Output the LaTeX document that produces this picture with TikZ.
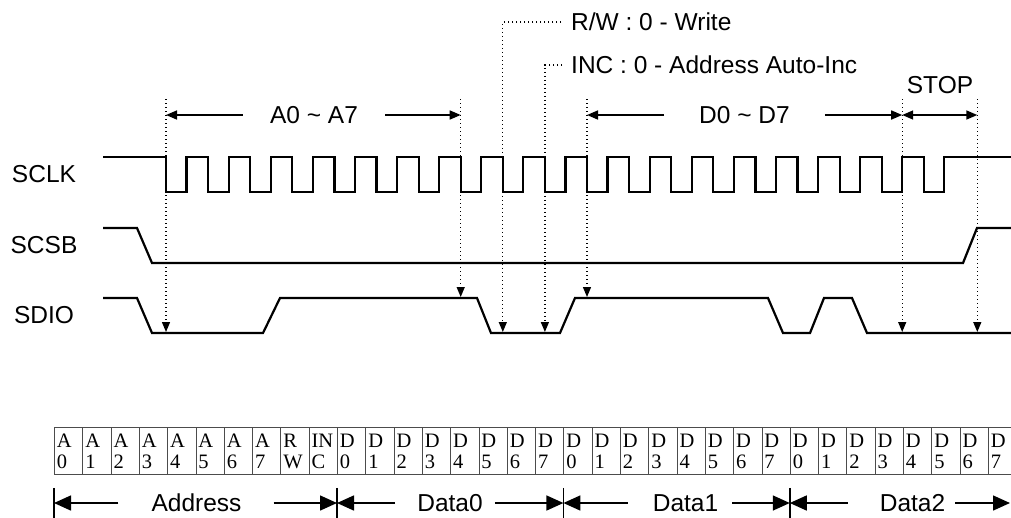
\documentclass[tikz,border=0pt]{standalone}
\usepackage{fontspec}
\setmainfont{Liberation Serif}
\setsansfont{Liberation Sans}
\usepackage{tikz}
\usetikzlibrary{arrows.meta, positioning}

\begin{document}
\begin{tikzpicture}[
    x=1pt, y=-1pt,
    sig/.style={line width=2.2pt, line join=miter},
    lbl/.style={font=\sffamily\fontsize{24.5}{29}\selectfont, text height=17.5pt, text depth=0pt, inner sep=0pt},
    guide/.style={line width=1.3pt, dash pattern=on 1.3pt off 2.7pt, -{Triangle[length=10pt, width=8pt]}},
    span/.style={line width=1.6pt, -{Triangle[length=11pt, width=9pt]}},
    spanboth/.style={line width=1.6pt, {Triangle[length=11pt, width=9pt]}-{Triangle[length=11pt, width=9pt]}},
    field/.style={line width=1.5pt, -{Triangle[length=17pt, width=15pt]}},
    bar/.style={line width=1.5pt},
    cell/.style={draw=black!70, line width=0.9pt, rectangle, anchor=north west, minimum width=28.3pt, minimum height=47pt, inner xsep=2.5pt, inner ysep=0pt, text width=23.3pt, align=left, font=\fontsize{20.5}{21}\selectfont}
]
\useasboundingbox (0,0) rectangle (1011,517);
\clip (0,0) rectangle (1011,517);

\node[lbl] (sclk) at (44,174) {SCLK};
\node[lbl, below=52.5pt of sclk] (scsb) {SCSB};
\node[lbl, below=52.5pt of scsb] (sdio) {SDIO};

% waveforms
\draw[sig] (103,157) foreach \k in {0,...,18} { -- ({166+42.1*\k},157) -- ++(0,35) -- ++(20.5,0) -- ++(0,-35) } -- (1011,157);
\draw[sig] (103,228) -- (137,228) -- (152,263) -- (963,263) -- (977,228) -- (1011,228);
\draw[sig] (103,298) -- (137,298) -- (152,333) -- (263,333) -- (280,298) -- (477,298) -- (491,333) -- (560,333)
    -- (575,298) -- (768,298) -- (783,333) -- (810,333) -- (824,298) -- (852,298) -- (867,333) -- (1011,333);

\coordinate (a0top) at (166,99);     \coordinate (a0bot) at (166,332);
\coordinate (a7top) at (460.7,99);   \coordinate (a7bot) at (460.7,297);
\coordinate (rwtop) at (502.8,22);   \coordinate (rwbot) at (502.8,332);
\coordinate (inctop) at (544.9,65);  \coordinate (incbot) at (544.9,332);
\coordinate (d0top) at (587,99);     \coordinate (d0bot) at (587,297);
\coordinate (d7top) at (902.2,99);   \coordinate (d7bot) at (902.2,332);
\coordinate (stoptop) at (977.3,99); \coordinate (stopbot) at (977.3,332);

\node[lbl, anchor=west] (rwtxt) at (571,22) {R/W : 0 - Write};
\node[lbl, anchor=west] (inctxt) at (571,65) {INC : 0 - Address Auto-Inc};
\node[lbl, inner xsep=27pt] (atxt) at (314,115) {A0 \textasciitilde{} A7};
\node[lbl, inner xsep=35pt] (dtxt) at (744.5,115) {D0 \textasciitilde{} D7};
\node[lbl] (stoptxt) at (940,85) {STOP};

\draw[guide] (a0top) -- (a0bot);
\draw[guide] (a7top) -- (a7bot);
\draw[guide, shorten <=10pt] (rwtxt.west) -- (rwtop) -- (rwbot);
\draw[guide, shorten <=9pt] (inctxt.west) -- (inctop) -- (incbot);
\draw[guide] (d0top) -- (d0bot);
\draw[guide] (d7top) -- (d7bot);
\draw[guide] (stoptop) -- (stopbot);

\draw[span] (atxt.west) -- (atxt.west -| a0top);
\draw[span] (atxt.east) -- (atxt.east -| a7top);
\draw[span] (dtxt.west) -- (dtxt.west -| d0top);
\draw[span] (dtxt.east) -- (dtxt.east -| d7top);
\draw[spanboth] (dtxt.east -| d7top) -- (dtxt.east -| stoptop);

% bit table
\foreach \hi/\lo [count=\i from 0] in {A/0,A/1,A/2,A/3,A/4,A/5,A/6,A/7,R/W,IN/C,
    D/0,D/1,D/2,D/3,D/4,D/5,D/6,D/7,D/0,D/1,D/2,D/3,D/4,D/5,D/6,D/7,D/0,D/1,D/2,D/3,D/4,D/5,D/6,D/7}
    \node[cell] (c\i) at ({54+28.3*\i},427) {\hi\\\lo};

\foreach \i in {0,10,18,26}
    \draw[bar] ([yshift=-13pt]c\i.south west) -- ++(0,30);
\coordinate (tail) at (1010,503);

\node[lbl] (addr) at (196.5,503) {Address};
\node[lbl] (data0) at (450,503) {Data0};
\node[lbl] (data1) at (685.5,503) {Data1};
\node[lbl] (data2) at (912.5,503) {Data2};

\draw[field, shorten <=33pt] (addr.west) -- (addr.west -| c0.west);
\draw[field, shorten <=32pt] (addr.east) -- (addr.east -| c10.west);
\draw[field, shorten <=22pt] (data0.west) -- (data0.west -| c10.west);
\draw[field, shorten <=12pt] (data0.east) -- (data0.east -| c18.west);
\draw[field, shorten <=25pt] (data1.west) -- (data1.west -| c18.west);
\draw[field, shorten <=14pt] (data1.east) -- (data1.east -| c26.west);
\draw[field, shorten <=32pt] (data2.west) -- (data2.west -| c26.west);
\draw[field, shorten <=10pt] (data2.east) -- (tail);
\end{tikzpicture}
\end{document}
